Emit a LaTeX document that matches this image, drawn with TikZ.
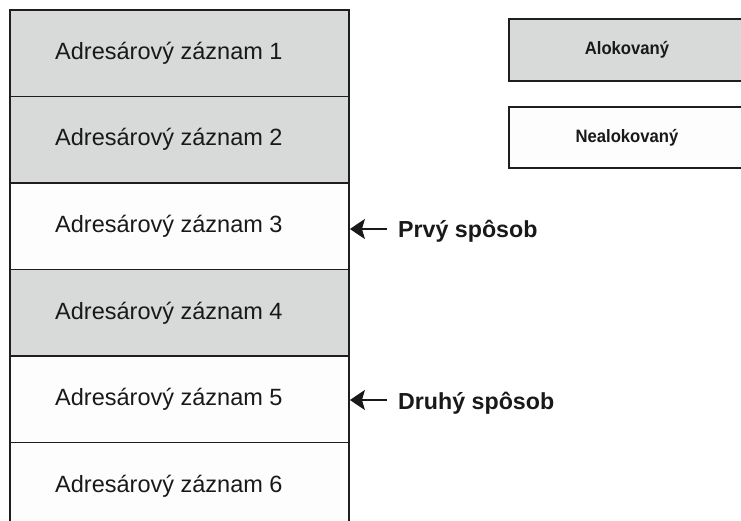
\documentclass[tikz,border=0pt]{standalone}
\usepackage{fontspec}
\setmainfont{Liberation Sans}
\usetikzlibrary{arrows.meta}
\definecolor{allocfill}{RGB}{216,217,217}
\definecolor{freefill}{RGB}{253,253,253}
\definecolor{edge}{RGB}{30,30,30}
\tikzset{
  rowbox/.style={draw=edge, line width=1.8bp, rectangle, minimum width=339bp,
    minimum height=86.5bp, inner sep=0pt},
  rowtext/.style={anchor=base west, inner sep=0pt, font=\fontsize{23.6}{26}\selectfont, text=black!90},
  keybox/.style={draw=edge, line width=1.8bp, rectangle, minimum width=236bp,
    minimum height=61.7bp, inner sep=0pt, text=black!90},
  pointer/.style={draw=black!90, line width=1.8bp, -{Stealth[length=15bp,width=20bp,inset=3bp]}},
  waytext/.style={anchor=base west, inner sep=0pt, font=\fontsize{23.3}{26}\selectfont\bfseries, text=black!90},
}
\newcommand{\keylabel}[1]{\scalebox{0.93}[1]{\fontsize{18}{20}\selectfont\bfseries #1}}
\begin{document}
\begin{tikzpicture}[x=1bp, y=-1bp]
\useasboundingbox (0,0) rectangle (741,521);
\fill[white] (0,0) rectangle (741,521);

% directory entries stacked from the top
\node[rowbox, fill=allocfill] (r1) at (179.5,53.25) {};
\node[rowbox, fill=allocfill] (r2) at (179.5,139.75) {};
\node[rowbox, fill=freefill]  (r3) at (179.5,226.25) {};
\node[rowbox, fill=allocfill] (r4) at (179.5,312.75) {};
\node[rowbox, fill=freefill]  (r5) at (179.5,399.25) {};
\node[rowbox, fill=freefill]  (r6) at (179.5,485.75) {};

\node[rowtext] (t1) at (55,59.5)  {Adresárový záznam 1};
\node[rowtext] (t2) at (55,146)   {Adresárový záznam 2};
\node[rowtext] (t3) at (55,232.5) {Adresárový záznam 3};
\node[rowtext] (t4) at (55,319)   {Adresárový záznam 4};
\node[rowtext] (t5) at (55,405.5) {Adresárový záznam 5};
\node[rowtext] (t6) at (55,492)   {Adresárový záznam 6};

% legend
\node[keybox, fill=allocfill] (ka) at (627,49.85) {\keylabel{Alokovaný}};
\node[keybox, fill=freefill]  (kf) at (627,137.5) {\keylabel{Nealokovaný}};

% the two ways of finding a free entry
\node[waytext] (w1) at (398,238) {Prvý spôsob};
\node[waytext] (w2) at (398,409) {Druhý spôsob};
\coordinate (a1) at (387,229);
\coordinate (a2) at (387,400);
\draw[pointer] (a1) -- (a1 -| r3.east);
\draw[pointer] (a2) -- (a2 -| r5.east);
\end{tikzpicture}
\end{document}
